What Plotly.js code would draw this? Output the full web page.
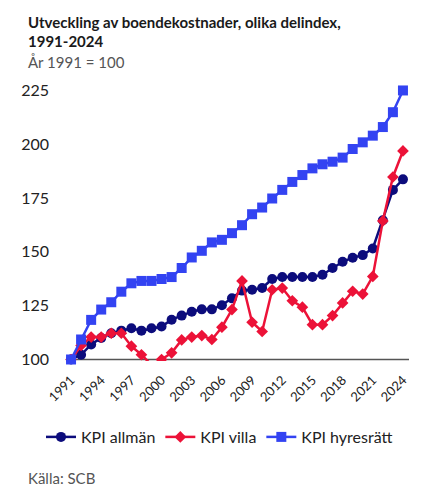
<!DOCTYPE html>
<html>
<head>
<meta charset="utf-8">
<script src="https://cdn.plot.ly/plotly-3.0.1.min.js"></script>
<style>
  html, body { margin: 0; padding: 0; background: #fff; }
  #chart { width: 435px; height: 500px; }
</style>
</head>
<body>
<div id="chart"></div>
<script>
// Boendekostnader 1991–2024, index 1991 = 100
const years = [1991, 1992, 1993, 1994, 1995, 1996, 1997, 1998, 1999, 2000,
               2001, 2002, 2003, 2004, 2005, 2006, 2007, 2008, 2009, 2010,
               2011, 2012, 2013, 2014, 2015, 2016, 2017, 2018, 2019, 2020,
               2021, 2022, 2023, 2024];

const kpiAllman = [100, 102.2, 107, 110, 112.2, 113.4, 114.5, 113.4, 114.5, 115.3,
                   118.5, 120.4, 122.2, 123.3, 123.3, 125.2, 128.4, 132, 132.4, 133.2,
                   137.4, 138.3, 138.3, 138.3, 138.3, 139.4, 142.5, 145.4, 147.3, 148.5,
                   151.6, 164.7, 178.8, 183.7];

const kpiVilla = [100, 106.5, 110.4, 110.4, 112.2, 112.2, 106.2, 102.2, 97.5, 100,
                  103.1, 109.1, 110.4, 111.1, 109.3, 115, 123.2, 136.5, 117.3, 113,
                  132.4, 133.2, 127.3, 124.3, 116.2, 116.2, 120.4, 126.3, 131.7, 130.4,
                  138.6, 164.4, 184.8, 196.9];

const kpiHyresratt = [100, 109.3, 118.4, 123.2, 126.6, 131.5, 135.4, 136.5, 136.5, 137.4,
                      138.3, 142.5, 147.4, 150.5, 154.4, 155.6, 158.7, 162.4, 167.5, 170.6,
                      174.8, 178.8, 182.5, 185.7, 188.8, 190.7, 191.9, 193.8, 197.8, 200.9,
                      204, 208, 214.9, 225];

const yTicks = [100, 125, 150, 175, 200, 225];
const xTicks = [1991, 1994, 1997, 2000, 2003, 2006, 2009, 2012, 2015, 2018, 2021, 2024];

const FONT = 'Lato, "Noto Sans", sans-serif';
const NAVY = '#0c0c7c';
const RED = '#ec1238';
const BLUE = '#3343f2';

const traces = [
  {
    name: 'KPI allmän', x: years, y: kpiAllman, type: 'scatter', mode: 'lines+markers',
    line: { color: NAVY, width: 2.5 },
    marker: { symbol: 'circle', size: 10, color: NAVY },
    cliponaxis: false
  },
  {
    name: 'KPI villa', x: years, y: kpiVilla, type: 'scatter', mode: 'lines+markers',
    line: { color: RED, width: 2.5 },
    marker: { symbol: 'diamond', size: 9, color: RED },
    cliponaxis: true
  },
  {
    name: 'KPI hyresrätt', x: years, y: kpiHyresratt, type: 'scatter', mode: 'lines+markers',
    line: { color: BLUE, width: 2.5 },
    marker: { symbol: 'square', size: 10, color: BLUE },
    cliponaxis: false
  }
];

const margin = { l: 65, r: 26, t: 84, b: 139 };
const plotW = 435 - margin.l - margin.r;
const plotH = 500 - margin.t - margin.b;

// Convert page pixel positions to paper coordinates
const px = x => (x - margin.l) / plotW;
const py = y => (500 - margin.b - y) / plotH;

const textBlocks = [
  { text: '<b>Utveckling av boendekostnader, olika delindex,</b>', x: 26, y: 22, size: 15 },
  { text: '<b>1991-2024</b>', x: 26, y: 41, size: 15 },
  { text: 'År 1991 = 100', x: 26, y: 62, color: '#555', size: 15 },
  { text: 'Källa: SCB', x: 26, y: 478, color: '#555', size: 15 }
];

const layout = {
  width: 435, height: 500,
  paper_bgcolor: '#fff', plot_bgcolor: '#fff',
  font: { family: FONT, color: '#222' },
  margin: margin,
  showlegend: true,
  legend: {
    // left of the plot area and below it, so the single row may use the left margin
    orientation: 'h', xref: 'paper', x: px(41), xanchor: 'left',
    yref: 'paper', y: py(437), yanchor: 'middle',
    font: { family: FONT, size: 16, color: '#222' },
    traceorder: 'normal', itemwidth: 30
  },
  xaxis: {
    range: [1990.4, 2024.6],
    tickmode: 'array', tickvals: xTicks, ticktext: xTicks.map(String),
    tickangle: -45, showgrid: false, zeroline: false, showline: false,
    ticks: '', ticklabelstandoff: 8,
    tickfont: { family: FONT, size: 13, color: '#222' },
    fixedrange: true
  },
  yaxis: {
    range: [99.3, 228],
    tickmode: 'array', tickvals: yTicks, ticktext: yTicks.map(String),
    showgrid: false, zeroline: false, showline: false,
    ticks: '', ticklabelstandoff: 15,
    tickfont: { family: FONT, size: 16, color: '#222' },
    fixedrange: true
  },
  shapes: [
    { type: 'line', xref: 'x', yref: 'y', x0: 1991, x1: 2024.6, y0: 100, y1: 100,
      line: { color: '#555', width: 1.5 }, layer: 'below' }
  ],
  annotations: textBlocks.map(a => ({
    text: a.text, showarrow: false, xref: 'paper', yref: 'paper',
    x: px(a.x), y: py(a.y),
    xanchor: 'left', yanchor: 'middle', align: 'left',
    font: { family: FONT, size: a.size || 16, color: a.color || '#1a1a1a' }
  }))
};

Plotly.newPlot('chart', traces, layout, { displayModeBar: false, staticPlot: true });
</script>
</body>
</html>
